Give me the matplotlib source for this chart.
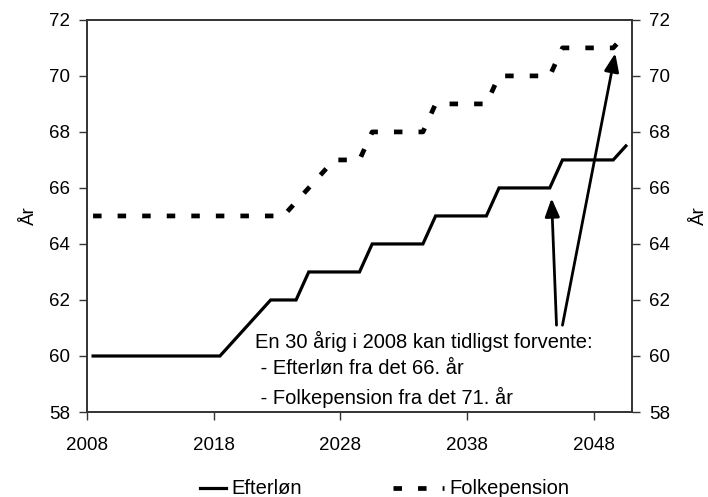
import matplotlib
matplotlib.use("Agg")
import matplotlib.pyplot as plt
from matplotlib.lines import Line2D
import numpy as np

plt.rcParams['font.family'] = ['Liberation Sans', 'DejaVu Sans']

years = list(range(2008, 2051))
efterlon = ([60.0] * 11 + [60.5, 61.0, 61.5, 62.0, 62.0, 62.0]
            + [63.0] * 5 + [64.0] * 5 + [65.0] * 5 + [66.0] * 5 + [67.0] * 5 + [67.5])
folkepension = ([65.0] * 16 + [65.5, 66.0, 66.5, 67.0, 67.0, 67.0]
                + [68.0] * 5 + [69.0] * 5 + [70.0] * 5 + [71.0] * 5 + [71.5])
xticks = [2008, 2018, 2028, 2038, 2048]
yticks = [58, 60, 62, 64, 66, 68, 70, 72]
series_names = ["Efterløn", "Folkepension"]
annotation = "En 30 årig i 2008 kan tidligst forvente:\n - Efterløn fra det 66. år\n - Folkepension fra det 71. år"

FS = 13.5
W, H = 708, 497
fig = plt.figure(figsize=(W / 100, H / 100), dpi=100)
ax = fig.add_axes([0.1225, 0.171, 0.7705, 0.789])

SOLID = dict(color='black', lw=2.3, solid_joinstyle='miter')
DASHED = dict(color='black', lw=3.4, dashes=(1.8, 3.4), dash_capstyle='butt')

x = np.array(years) + 0.5
ax.plot(x, efterlon, **SOLID)
ax.plot(x, folkepension, **DASHED)

ax.set_xlim(2008, 2051)
ax.set_ylim(58, 72)
ax.set_xticks(xticks)
ax.set_yticks(yticks)
ax.tick_params(axis='both', direction='out', length=6, width=1, color='#333333',
               labelsize=FS, pad=6)
ax.tick_params(axis='x', pad=12)
ax.set_ylabel("År", fontsize=FS, labelpad=8)

for s in ax.spines.values():
    s.set_color('#333333')
    s.set_linewidth(1.2)

ax2 = ax.twinx()
ax2.set_ylim(58, 72)
ax2.set_yticks(yticks)
ax2.tick_params(axis='y', direction='out', length=6, width=1, color='#333333',
                labelsize=FS, pad=6)
ax2.set_ylabel("År", fontsize=FS, labelpad=15)
for s in ax2.spines.values():
    s.set_color('#333333')
    s.set_linewidth(1.2)

ax.text(2021.3, 60.9, annotation, fontsize=14.5, va='top', ha='left',
        linespacing=1.5)
arrowprops = dict(arrowstyle='-|>,head_length=0.55,head_width=0.22', lw=2.0,
                  color='black', mutation_scale=20, shrinkA=0, shrinkB=0)
ax.annotate("", xy=(2044.64, 65.63), xytext=(2045.03, 61.1), arrowprops=arrowprops)
ax.annotate("", xy=(2049.66, 70.81), xytext=(2045.5, 61.1), arrowprops=arrowprops)

# legend drawn below the plot (figure pixel coordinates)
ly = 1 - 488 / H
fig.add_artist(Line2D([200 / W, 226 / W], [ly, ly], transform=fig.transFigure, **SOLID))
fig.text(231 / W, ly, series_names[0], fontsize=14.5, va='center', ha='left')
fig.add_artist(Line2D([393 / W, 444 / W], [ly, ly], transform=fig.transFigure, **DASHED))
fig.text(449 / W, ly, series_names[1], fontsize=14.5, va='center', ha='left')

fig.savefig("out.png", dpi=100)
